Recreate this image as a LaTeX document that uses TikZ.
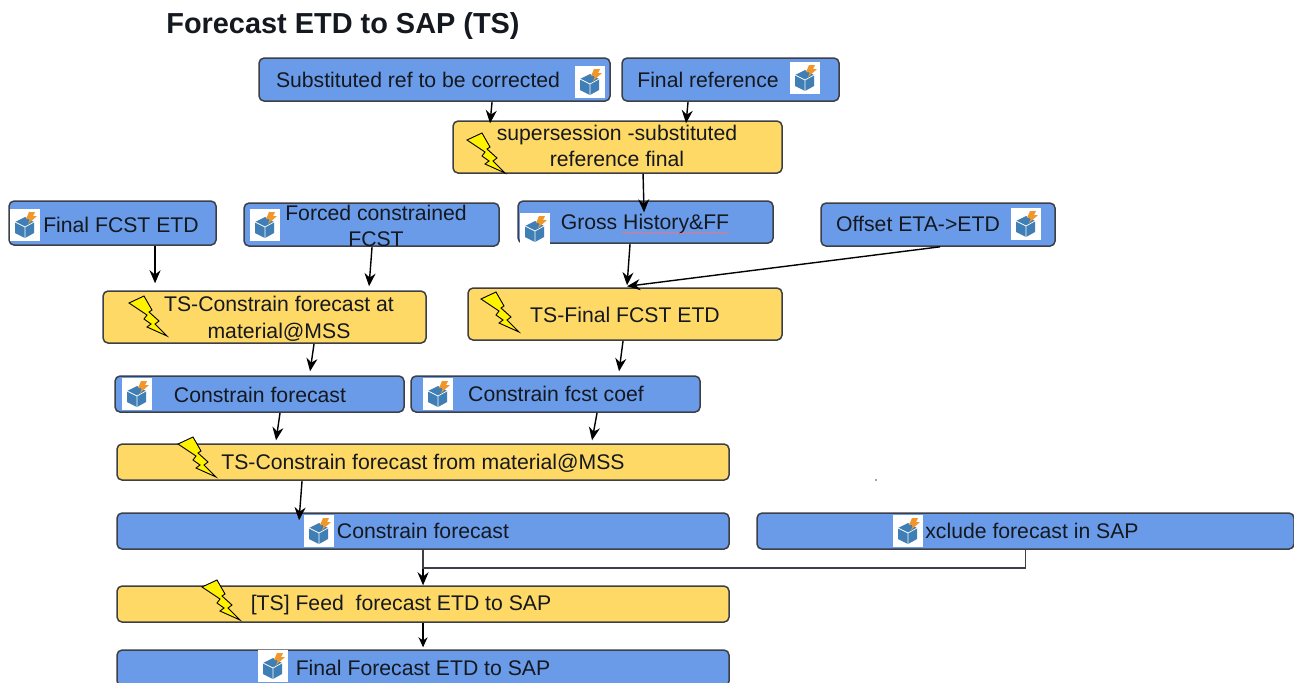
\documentclass[tikz,border=0pt]{standalone}
\usepackage{fontspec}
\setmainfont{Liberation Sans}
\usetikzlibrary{arrows.meta,decorations.pathmorphing}
\definecolor{boxblue}{HTML}{6A9BE9}
\definecolor{boxyellow}{HTML}{FFD966}
\definecolor{edgegray}{HTML}{3C3F45}
\definecolor{inktext}{HTML}{14181F}
\definecolor{cubeblue}{HTML}{3F7FB5}
\definecolor{cubeorange}{HTML}{F0962A}
\tikzset{
  flowbox/.style={draw=edgegray,line width=1.5pt,rounded corners=5pt,inner sep=0pt,anchor=north west,xshift=-.7pt,yshift=.7pt},
  bluebox/.style={flowbox,fill=boxblue},
  yellowbox/.style={flowbox,fill=boxyellow},
  lbl/.style={font=\fontsize{21.2}{26.5}\selectfont,text=inktext,align=center,inner sep=0pt},
  conn/.style={-{Stealth[length=13pt,width=11pt]},line width=1.4pt,draw=black},
  connthin/.style={-{Stealth[length=10pt,width=9pt]},line width=1.2pt,draw=black},
  icon/.pic={
    \fill[white] (-15,-16) rectangle (15,16);
    \fill[cubeblue] (-10,-3) -- (0,-8) -- (9,-3) -- (9,8) -- (0,13) -- (-10,8) -- cycle;
    \draw[white,line width=.7pt] (-10,-3) -- (0,2) -- (9,-3) (0,2) -- (0,13);
    \fill[cubeorange] (4,-13) -- (10,-13) -- (8,-9) -- (12,-9) -- (3,-1) -- (5,-6) -- (1,-6) -- cycle;
  },
  bolt/.pic={
    \draw[draw=black,line width=.9pt,fill=yellow,line join=miter]
      (0,7) -- (15,0) -- (23,14) -- (20,16) -- (30,25) -- (26,28) -- (38,40)
      -- (18,31) -- (22,28) -- (15,23) -- (18,19) -- cycle;
  }
}
\newcommand{\boxat}[6]{\node[#1,minimum width=#4 pt,minimum height=#5 pt] (#6) at (#2,#3) {};}
\begin{document}
\begin{tikzpicture}[x=1pt,y=-1pt]
\path[use as bounding box,clip] (0,0) rectangle (1294,683);
\fill[white] (0,0) rectangle (1294,683);

\node[font=\fontsize{28.9}{32}\selectfont\bfseries,text=inktext,inner sep=0pt] (title) at (343,26) {Forecast ETD to SAP (TS)};

% boxes
\boxat{bluebox}{259}{58}{351}{43}{sa}
\boxat{bluebox}{622}{58}{217}{43}{sb}
\boxat{yellowbox}{453}{121}{329}{52}{sup}
\boxat{bluebox}{9}{201}{207}{44}{fa}
\boxat{bluebox}{244}{203}{255}{43}{fb}
\boxat{bluebox}{518}{201}{255}{42}{fc}
\boxat{bluebox}{821}{203}{234}{43}{fd}
\boxat{yellowbox}{103}{291}{323}{52}{ca}
\boxat{yellowbox}{468}{288}{314}{52}{cb}
\boxat{bluebox}{115}{376}{289}{36}{da}
\boxat{bluebox}{411}{376}{289}{36}{db}
\boxat{yellowbox}{117}{444}{612}{36}{ea}
\boxat{bluebox}{117}{513}{612}{36}{ga}
\boxat{bluebox}{757}{513}{537}{36}{gb}
\boxat{yellowbox}{117}{586}{612}{36}{ha}
\boxat{bluebox}{117}{650}{612}{36}{ia}

% icons
\foreach \ix/\iy in {590/82,805/78,25/225,265/225,535/229,1026/224,137/394,438/394,319/531,908/531,273/666}
  \pic at (\ix,\iy) {icon};

% bolts
\foreach \bx/\by in {467/133,129/296,481/292,178/437,202/580}
  \pic at (\bx,\by) {bolt};

% labels
\node[lbl] (tsa) at (418,80) {Substituted ref to be corrected};
\node[lbl] (tsb) at (708,80) {Final reference};
\node[lbl] (tsup) at (617,146) {supersession -substituted\\reference final};
\node[lbl] (tfa) at (121,225) {Final FCST ETD};
\node[lbl] (tfb) at (376,226) {Forced constrained\\FCST};
\node[lbl] (tfc) at (645,224) {Gross History\&FF};
\node[lbl] (tfd) at (918,224) {Offset ETA->ETD};
\node[lbl] (tca) at (279,319) {TS-Constrain forecast at\\material@MSS};
\node[lbl] (tcb) at (625,315) {TS-Final FCST ETD};
\node[lbl] (tda) at (260,395) {Constrain forecast};
\node[lbl] (tdb) at (556,394) {Constrain fcst coef};
\node[lbl] (tea) at (423,463.5) {TS-Constrain forecast from material@MSS};
\node[lbl] (tga) at (423,531) {Constrain forecast};
\node[lbl] (tgb) at (1032,531) {xclude forecast in SAP};
\node[lbl] (tha) at (401,605.5) {[TS] Feed\ \ forecast ETD to SAP};
\node[lbl] (tia) at (423,668) {Final Forecast ETD to SAP};

% spell-check underline
\coordinate (wa) at (622,233);
\coordinate (wb) at (729,233);
\draw[draw=red!55!white,line width=.6pt,decorate,decoration={snake,amplitude=.9pt,segment length=5pt}] (wa) -- (wb);

% connectors
\draw[conn] ([xshift=57.5pt]sa.south) -- ([xshift=-127.5pt,yshift=-3pt]sup.north);
\draw[conn] ([xshift=-42.5pt]sb.south) -- ([xshift=68.5pt,yshift=-3pt]sup.north);
\draw[conn] ([xshift=25.5pt]sup.south) -- ([xshift=-1.5pt,yshift=-12pt]fc.north);
\draw[conn] ([xshift=42.5pt]fa.south) -- ([xshift=-109.5pt,yshift=7pt]ca.north);
\draw[conn] ([xshift=0.5pt]fb.south) -- ([xshift=104.5pt,yshift=4pt]ca.north);
\draw[conn] ([xshift=-15.5pt]fc.south) -- ([xshift=2pt,yshift=2pt]cb.north);
\draw[conn] ([xshift=2pt]fd.south) -- ([xshift=2pt,yshift=1pt]cb.north);
\draw[conn] ([xshift=49.5pt]ca.south) -- ([xshift=50.5pt,yshift=4pt]da.north);
\draw[conn] ([xshift=-2pt]cb.south) -- ([xshift=63.5pt,yshift=4pt]db.north);
\draw[conn] ([xshift=20.5pt]da.south) -- ([xshift=-147pt,yshift=3pt]ea.north);
\draw[conn] ([xshift=41.5pt]db.south) -- ([xshift=169pt,yshift=3pt]ea.north);
\draw[conn] ([xshift=-121pt]ea.south) -- ([xshift=-124pt,yshift=-8pt]ga.north);
\draw[conn] (ga.south) -- (ha.north);
\draw[line width=1.4pt,draw=edgegray] (gb.south) -- ++(0,18) -| (ga.south);
\draw[connthin] (ha.south) -- ([yshift=2pt]ia.north);

% speck
\coordinate (speck) at (876,480);
\fill[black!70] (speck) circle (.8pt);
\end{tikzpicture}
\end{document}
